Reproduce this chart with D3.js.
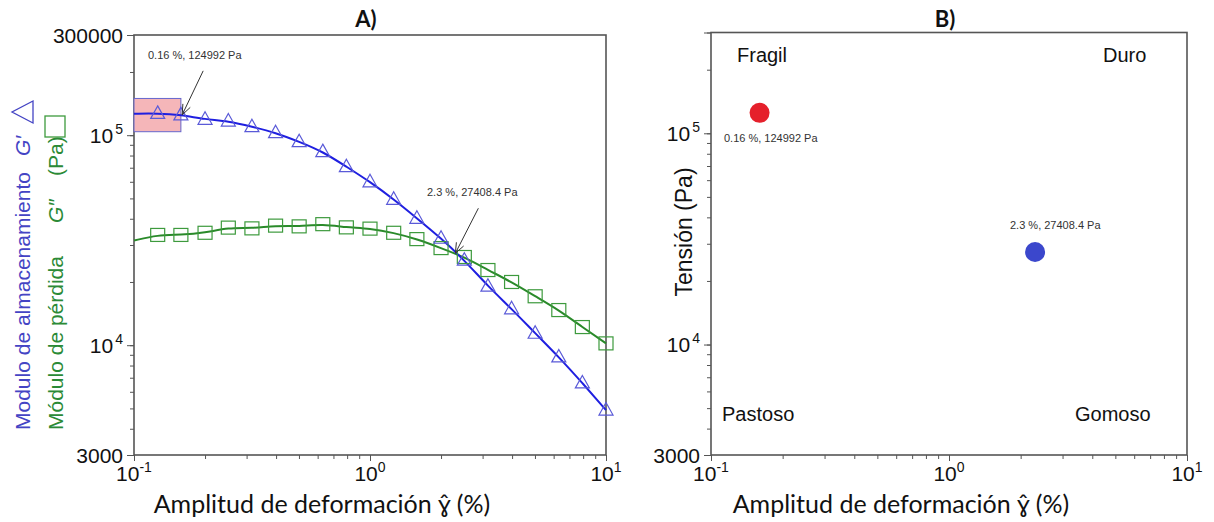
<!DOCTYPE html>
<html><head><meta charset="utf-8">
<script src="https://cdn.jsdelivr.net/npm/d3@7"></script>
<style>body{margin:0;background:#fff}svg{display:block}</style>
</head><body>
<svg id="c" width="1214" height="522"></svg>
<script>
// ---- data ----
const strainX = [0.126,0.158,0.2,0.251,0.316,0.398,0.501,0.631,0.794,1.0,1.26,1.58,2.0,2.51,3.16,3.98,5.01,6.31,7.94,10.0];
const storageG1 = [127000,124992,119000,116800,109800,102800,93100,83500,70800,60000,49500,40200,32300,25400,19100,14900,11400,8790,6610,4910];
const lossG2 = [33500,33500,34300,36300,36000,37100,36800,37700,36400,35900,34300,32000,29000,26300,22800,20000,17100,14700,12200,10200];
const fitStart = {x:0.1, g1:126500, g2:31500};
const highlightBox = {x0:0.1, x1:0.158, y0:103900, y1:149600};
const pointsB = [
  {x:0.16, y:124992, label:"0.16 %, 124992 Pa", color:"#e5202b"},
  {x:2.3, y:27408.4, label:"2.3 %,  27408.4 Pa", color:"#3b47cc"}
];
const quadrantLabels = ["Fragil","Duro","Pastoso","Gomoso"];
const xMajor = [0.1,1,10], xMajorExp = ["-1","0","1"];
const yMajor = [1e4,1e5], yMajorExp = ["4","5"];
const xTitle = "Amplitud de deformación ɣ̂  (%)";

const svg = d3.select("#c");
const AX = "#555";
const ARIAL = "'Liberation Sans', Arial, sans-serif";
const CAL = "Lato, 'Open Sans', sans-serif";

function minorTicks(lo, hi){
  const out=[]; for(let e=Math.floor(Math.log10(lo)); e<=Math.ceil(Math.log10(hi)); e++){
    for(let m=1;m<10;m++){const v=m*Math.pow(10,e); if(v>=lo*0.999&&v<=hi*1.001) out.push(v);} }
  return out;
}

function panel(x, y, title, plainLabels){
  const g = svg.append("g");
  const [x0,x1]=x.range(), [y0,y1]=y.range();
  g.append("g").attr("transform",`translate(0,${y0})`)
    .call(d3.axisBottom(x).tickValues(minorTicks(0.1,10)).tickSize(4).tickFormat(""))
    .call(s=>{s.select(".domain").remove(); s.selectAll("line").attr("stroke",AX);});
  g.append("g").attr("transform",`translate(0,${y0})`)
    .call(d3.axisBottom(x).tickValues(xMajor).tickSize(6).tickFormat(""))
    .call(s=>{s.select(".domain").remove(); s.selectAll("line").attr("stroke",AX);});
  g.append("g").attr("transform",`translate(${x0},0)`)
    .call(d3.axisLeft(y).tickValues(minorTicks(3000,300000)).tickSize(4).tickFormat(""))
    .call(s=>{s.select(".domain").remove(); s.selectAll("line").attr("stroke",AX);});
  g.append("g").attr("transform",`translate(${x0},0)`)
    .call(d3.axisLeft(y).tickValues([3000,1e4,1e5,300000]).tickSize(7).tickFormat(""))
    .call(s=>{s.select(".domain").remove(); s.selectAll("line").attr("stroke",AX);});
  g.append("rect").attr("x",x0).attr("y",y1).attr("width",x1-x0).attr("height",y0-y1)
    .attr("fill","none").attr("stroke",AX).attr("stroke-width",1.6);
  xMajor.forEach((v,i)=>{
    const t=g.append("text").attr("x",x(v)).attr("y",481).attr("text-anchor","middle")
      .attr("font-family",ARIAL).attr("font-size",21).attr("fill","#111");
    t.append("tspan").text("10");
    t.append("tspan").attr("dy",-9).attr("font-size",14).text(xMajorExp[i]);
  });
  plainLabels.forEach(v=>{
    g.append("text").attr("x",x0-11).attr("y",y(v)+7.5).attr("text-anchor","end")
      .attr("font-family",ARIAL).attr("font-size",21).attr("fill","#111").text(v);
  });
  yMajor.forEach((v,i)=>{
    const t=g.append("text").attr("x",x0-11).attr("y",y(v)+7.5).attr("text-anchor","end")
      .attr("font-family",ARIAL).attr("font-size",21).attr("fill","#111");
    t.append("tspan").text("10");
    t.append("tspan").attr("dy",-9).attr("font-size",14).attr("dx",2).text(yMajorExp[i]);
  });
  g.append("text").attr("x",(x0+x1)/2-48).attr("y",513).attr("text-anchor","middle")
    .attr("font-family",CAL).attr("font-size",25).attr("fill","#111").text(xTitle);
  g.append("text").attr("x",(x0+x1)/2-4).attr("y",27).attr("text-anchor","middle")
    .attr("font-family",CAL).attr("font-weight","bold").attr("font-size",22).attr("fill","#111").text(title);
  return g;
}

function arrow(g, tip, dxs, dys){
  const sx=tip[0]+dxs, sy=tip[1]+dys;
  const ang=Math.atan2(tip[1]-sy, tip[0]-sx), L=11, a=0.38;
  g.append("line").attr("x1",sx).attr("y1",sy).attr("x2",tip[0]).attr("y2",tip[1])
    .attr("stroke","#333").attr("stroke-width",1);
  g.append("path").attr("d",`M${tip[0]-L*Math.cos(ang-a)},${tip[1]-L*Math.sin(ang-a)}L${tip[0]},${tip[1]}L${tip[0]-L*Math.cos(ang+a)},${tip[1]-L*Math.sin(ang+a)}`)
    .attr("fill","none").attr("stroke","#333").attr("stroke-width",1);
}

// ---- Panel A ----
const xA = d3.scaleLog().domain([0.1,10]).range([134,606]);
const yA = d3.scaleLog().domain([3000,300000]).range([455,35]);
const gA = panel(xA,yA,"A)",[3000,300000]);

gA.append("rect").attr("x",xA(highlightBox.x0)).attr("y",yA(highlightBox.y1))
  .attr("width",xA(highlightBox.x1)-xA(highlightBox.x0)).attr("height",yA(highlightBox.y0)-yA(highlightBox.y1))
  .attr("fill","#f5b6b9").attr("stroke","#6666cc").attr("stroke-width",1);

const lineG1 = [[fitStart.x,fitStart.g1], ...strainX.map((x,i)=>[x,storageG1[i]])];
const lineG2 = [[fitStart.x,fitStart.g2], ...strainX.map((x,i)=>[x,lossG2[i]])];
const lg = d3.line().x(d=>xA(d[0])).y(d=>yA(d[1])).curve(d3.curveBasis);
gA.append("path").attr("d",lg(lineG2)).attr("fill","none").attr("stroke","#2a8a2a").attr("stroke-width",2);
gA.append("path").attr("d",lg(lineG1)).attr("fill","none").attr("stroke","#1f1fe0").attr("stroke-width",2);

gA.selectAll(".sq").data(strainX).join("rect")
  .attr("x",(d)=>xA(d)-7).attr("y",(d,i)=>yA(lossG2[i])-6.5).attr("width",14).attr("height",13)
  .attr("fill","none").attr("stroke","#3d9a3d").attr("stroke-width",1.2);
gA.selectAll(".tr").data(strainX).join("path")
  .attr("d","M0,-7.5L7,5L-7,5Z")
  .attr("transform",(d,i)=>`translate(${xA(d)},${yA(storageG1[i])})`)
  .attr("fill","none").attr("stroke","#5a5ad8").attr("stroke-width",1.2);

gA.append("text").attr("x",148).attr("y",59).attr("font-family",ARIAL).attr("font-size",11).attr("fill","#333").text(pointsB[0].label);
arrow(gA,[xA(pointsB[0].x),yA(pointsB[0].y)],21,-44);
gA.append("text").attr("x",427).attr("y",196).attr("font-family",ARIAL).attr("font-size",11).attr("fill","#333").text(pointsB[1].label);
arrow(gA,[xA(pointsB[1].x),yA(pointsB[1].y)],23,-45);

const blue = svg.append("g").attr("transform","translate(30,430) rotate(-90)")
  .attr("font-family",ARIAL).attr("font-size",21).attr("fill","#4444c4");
blue.append("text").attr("x",0).attr("y",0).text("Modulo de almacenamiento");
blue.append("text").attr("x",274).attr("y",0).attr("font-style","italic").text("G′");
blue.append("path").attr("d","M307,3L329,3L318,-18Z").attr("fill","none").attr("stroke","#4444c4").attr("stroke-width",1.3);
const green = svg.append("g").attr("transform","translate(63,430) rotate(-90)")
  .attr("font-family",ARIAL).attr("font-size",21).attr("fill","#2b8a36");
green.append("text").attr("x",0).attr("y",0).text("Módulo de pérdida");
green.append("text").attr("x",207).attr("y",0).attr("font-style","italic").text("G″");
green.append("text").attr("x",254).attr("y",0).text("(Pa)");
green.append("rect").attr("x",293).attr("y",-18).attr("width",21).attr("height",20).attr("fill","none").attr("stroke","#3d9a3d").attr("stroke-width",1.3);

// ---- Panel B ----
const xB = d3.scaleLog().domain([0.1,10]).range([711,1187]);
const yB = d3.scaleLog().domain([3000,300000]).range([455,32.5]);
const gB = panel(xB,yB,"B)",[3000]);
gB.selectAll(".pt").data(pointsB).join("circle")
  .attr("cx",d=>xB(d.x)).attr("cy",d=>yB(d.y)).attr("r",10).attr("fill",d=>d.color);
gB.append("text").attr("x",724).attr("y",141.5).attr("font-family",ARIAL).attr("font-size",11).attr("fill","#333").text(pointsB[0].label);
gB.append("text").attr("x",1010).attr("y",229).attr("font-family",ARIAL).attr("font-size",11).attr("fill","#333").text(pointsB[1].label);
const qpos = [[737,62],[1103,62],[722,421],[1075,421]];
quadrantLabels.forEach((t,i)=>gB.append("text").attr("x",qpos[i][0]).attr("y",qpos[i][1])
  .attr("font-family",ARIAL).attr("font-size",20).attr("fill","#111").text(t));
svg.append("text").attr("transform","translate(692,232) rotate(-90)").attr("text-anchor","middle")
  .attr("font-family",ARIAL).attr("font-size",23).attr("fill","#111").text("Tensión  (Pa)");
</script>
</body></html>
